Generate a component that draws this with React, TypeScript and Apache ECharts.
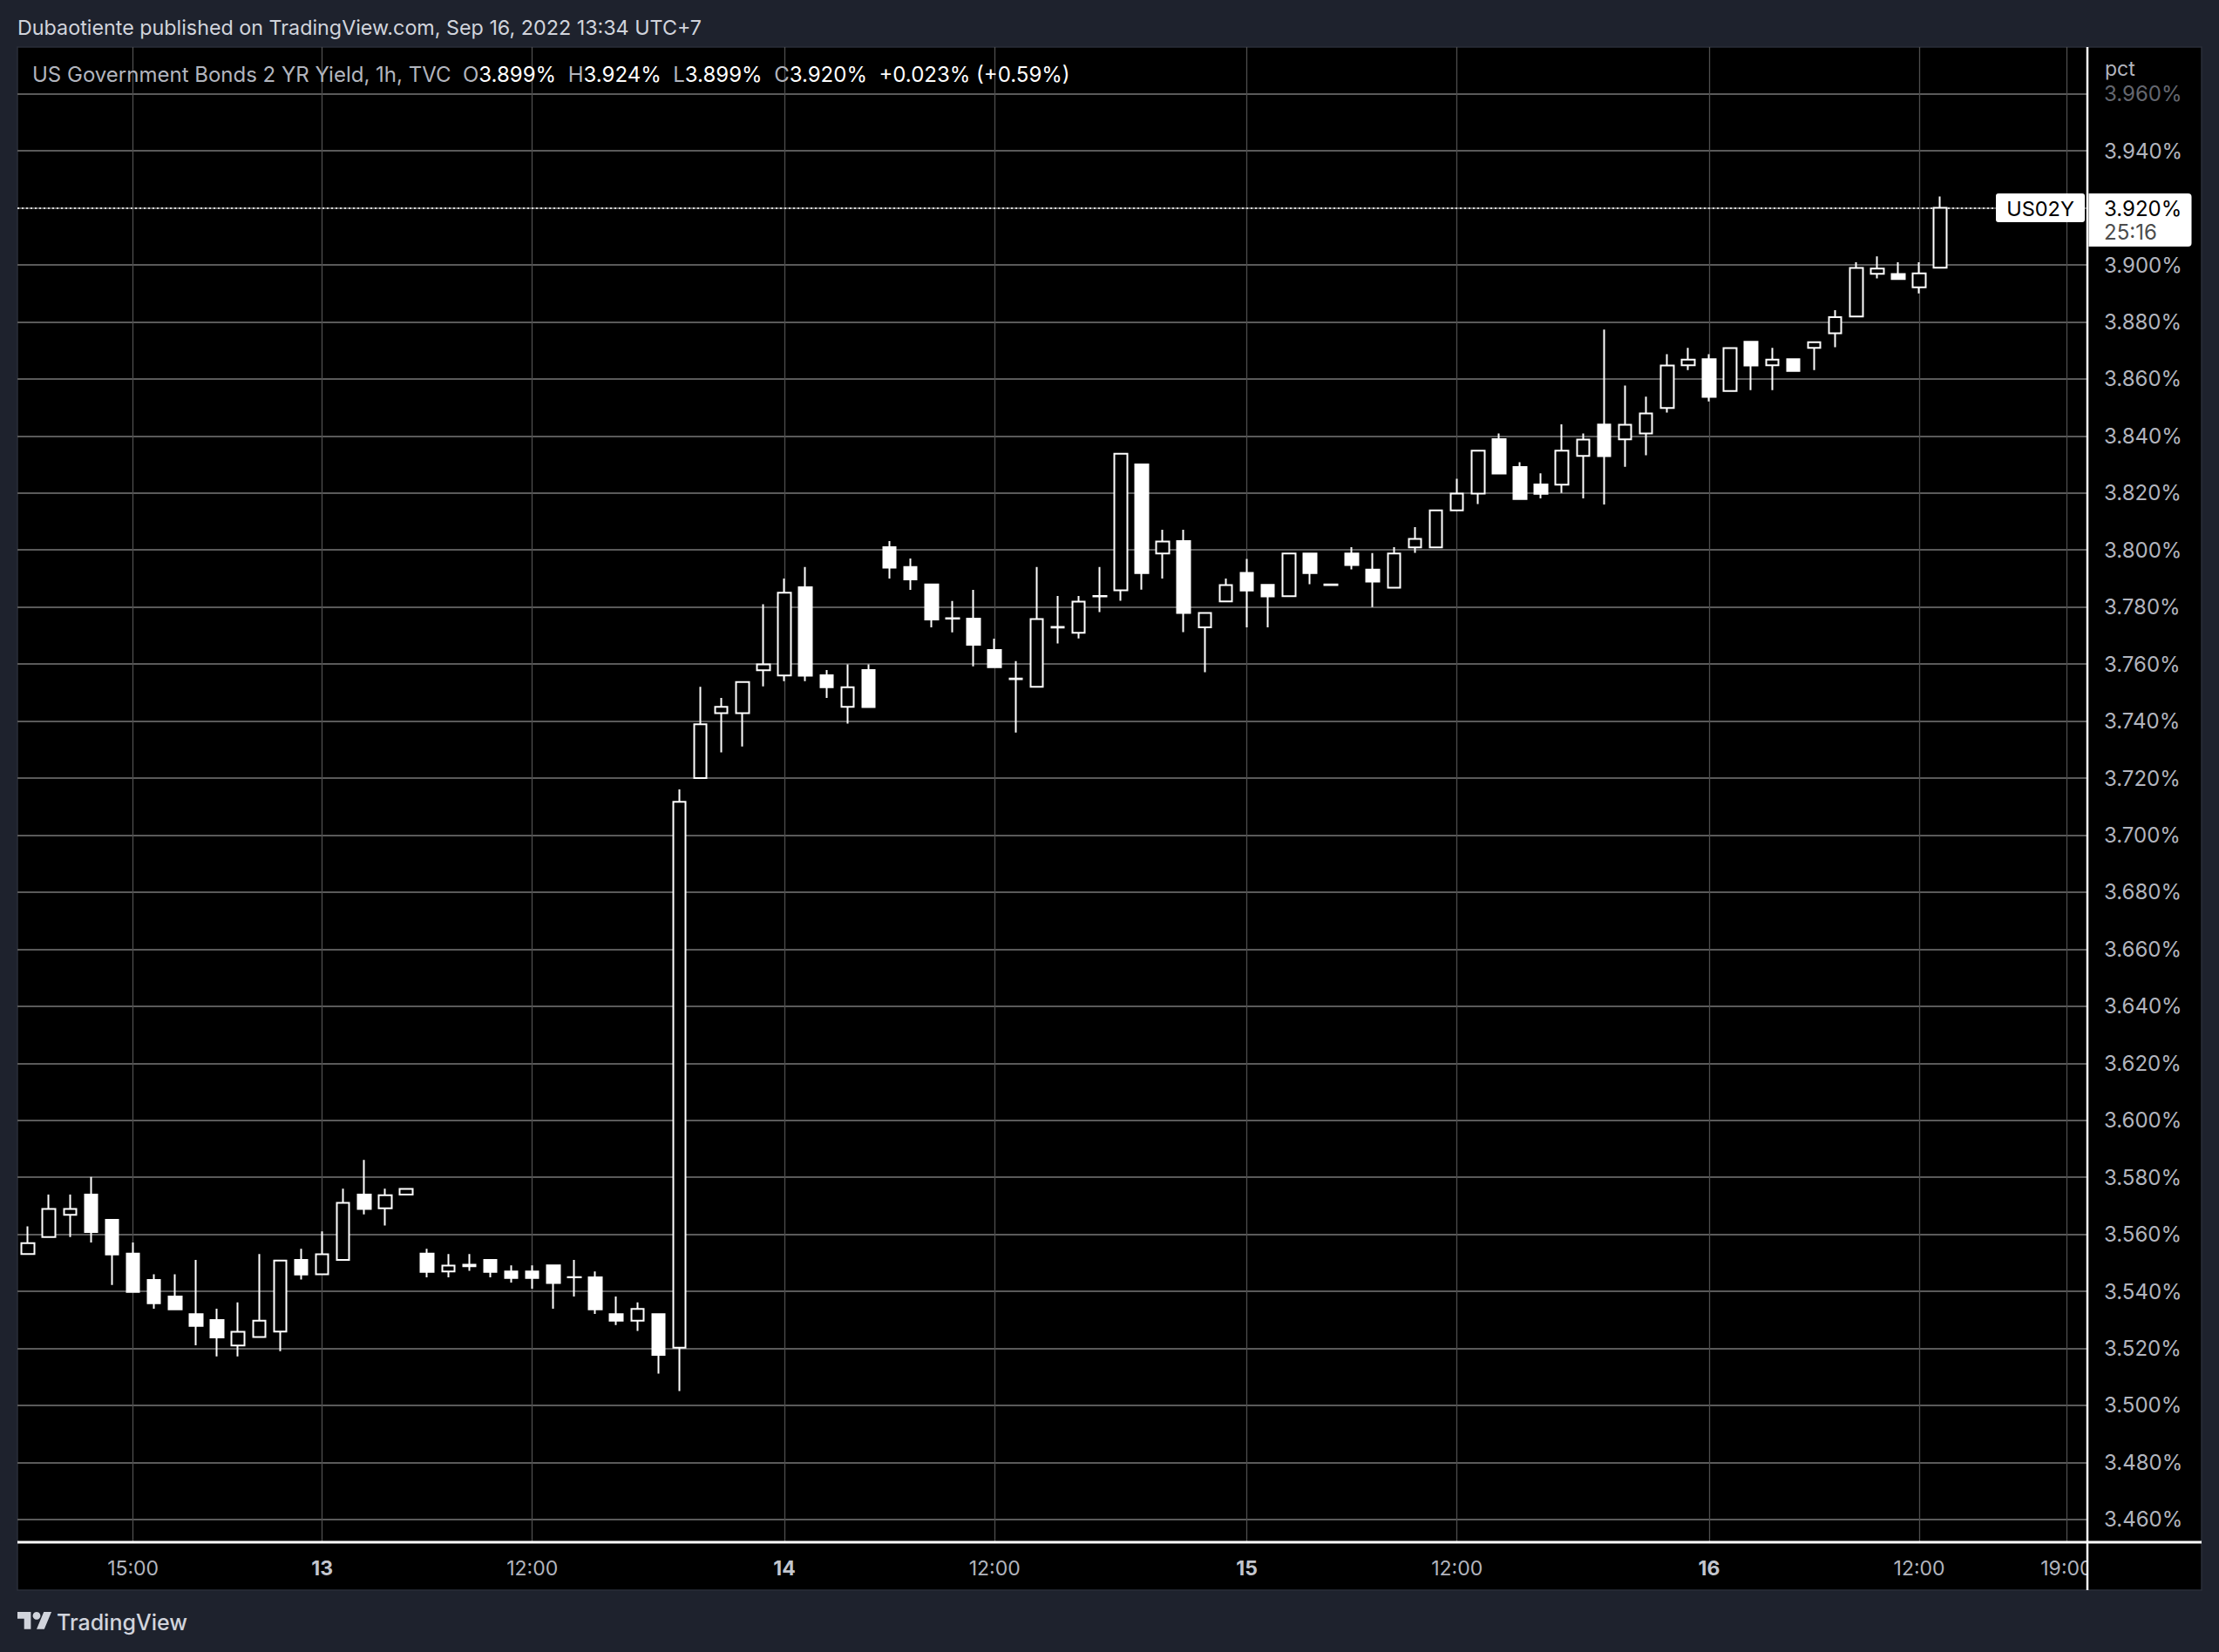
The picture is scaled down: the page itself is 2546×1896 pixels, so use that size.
import React, { useEffect, useRef } from "react";
import * as echarts from "echarts";

// ---------- data (1h bars, TVC:US02Y, Sep 12 10:00 -> Sep 16 13:00, UTC+7) ----------
const OPEN = [
  3.5531, 3.5590, 3.5668, 3.5739, 3.5651, 3.5532, 3.5440, 3.5382, 3.5320, 3.5299,
  3.5210, 3.5240, 3.5259, 3.5510, 3.5460, 3.5510, 3.5739, 3.5691, 3.5739, 3.5532,
  3.5470, 3.5493, 3.5510, 3.5470, 3.5470, 3.5491, 3.5450, 3.5449, 3.5320, 3.5297,
  3.5320, 3.5202, 3.7200, 3.7428, 3.7428, 3.7578, 3.7560, 3.7869, 3.7561, 3.7450,
  3.7579, 3.8010, 3.7940, 3.7879, 3.7761, 3.7759, 3.7649, 3.7549, 3.7520, 3.7730,
  3.7710, 3.7839, 3.7859, 3.8300, 3.7988, 3.8031, 3.7729, 3.7820, 3.7920, 3.7878,
  3.7838, 3.7988, 3.7879, 3.7988, 3.7931, 3.7868, 3.8009, 3.8009, 3.8139, 3.8198,
  3.8389, 3.8291, 3.8230, 3.8229, 3.8330, 3.8440, 3.8388, 3.8409, 3.8498, 3.8648,
  3.8669, 3.8558, 3.8730, 3.8648, 3.8669, 3.8709, 3.8760, 3.8819, 3.8969, 3.8968,
  3.8921, 3.8990,
];
const HIGH = [
  3.5628, 3.5739, 3.5739, 3.5801, 3.5651, 3.5571, 3.5460, 3.5460, 3.5510, 3.5339,
  3.5361, 3.5531, 3.5508, 3.5549, 3.5610, 3.5760, 3.5861, 3.5760, 3.5759, 3.5549,
  3.5531, 3.5531, 3.5510, 3.5491, 3.5491, 3.5491, 3.5510, 3.5470, 3.5382, 3.5361,
  3.5320, 3.7160, 3.7520, 3.7481, 3.7537, 3.7810, 3.7900, 3.7940, 3.7579, 3.7599,
  3.7599, 3.8031, 3.7970, 3.7879, 3.7821, 3.7860, 3.7689, 3.7610, 3.7940, 3.7839,
  3.7839, 3.7940, 3.8338, 3.8300, 3.8071, 3.8071, 3.7779, 3.7900, 3.7969, 3.7878,
  3.7988, 3.7988, 3.7881, 3.8010, 3.7989, 3.8010, 3.8080, 3.8139, 3.8250, 3.8348,
  3.8409, 3.8308, 3.8269, 3.8441, 3.8409, 3.8773, 3.8577, 3.8538, 3.8687, 3.8709,
  3.8687, 3.8708, 3.8730, 3.8709, 3.8669, 3.8729, 3.8841, 3.9009, 3.9030, 3.9009,
  3.9009, 3.9240,
];
const LOW = [
  3.5531, 3.5590, 3.5590, 3.5571, 3.5422, 3.5398, 3.5339, 3.5337, 3.5211, 3.5172,
  3.5172, 3.5240, 3.5190, 3.5441, 3.5460, 3.5510, 3.5670, 3.5631, 3.5739, 3.5449,
  3.5449, 3.5472, 3.5449, 3.5431, 3.5409, 3.5339, 3.5382, 3.5321, 3.5282, 3.5261,
  3.5111, 3.5050, 3.7200, 3.7290, 3.7311, 3.7522, 3.7540, 3.7540, 3.7481, 3.7391,
  3.7449, 3.7900, 3.7860, 3.7729, 3.7711, 3.7592, 3.7589, 3.7360, 3.7520, 3.7672,
  3.7690, 3.7782, 3.7822, 3.7861, 3.7900, 3.7712, 3.7571, 3.7820, 3.7729, 3.7729,
  3.7838, 3.7880, 3.7876, 3.7932, 3.7800, 3.7868, 3.7990, 3.8009, 3.8139, 3.8161,
  3.8268, 3.8179, 3.8181, 3.8200, 3.8181, 3.8160, 3.8292, 3.8332, 3.8482, 3.8631,
  3.8521, 3.8558, 3.8561, 3.8561, 3.8628, 3.8631, 3.8711, 3.8819, 3.8953, 3.8950,
  3.8900, 3.8990,
];
const CLOSE = [
  3.5569, 3.5689, 3.5689, 3.5608, 3.5529, 3.5398, 3.5358, 3.5337, 3.5279, 3.5238,
  3.5258, 3.5297, 3.5508, 3.5459, 3.5530, 3.5710, 3.5689, 3.5737, 3.5759, 3.5468,
  3.5490, 3.5488, 3.5468, 3.5447, 3.5447, 3.5429, 3.5449, 3.5337, 3.5297, 3.5338,
  3.5177, 3.7117, 3.7389, 3.7450, 3.7537, 3.7599, 3.7850, 3.7559, 3.7519, 3.7519,
  3.7449, 3.7938, 3.7897, 3.7756, 3.7759, 3.7668, 3.7589, 3.7547, 3.7758, 3.7728,
  3.7819, 3.7837, 3.8338, 3.7919, 3.8030, 3.7779, 3.7779, 3.7877, 3.7858, 3.7837,
  3.7988, 3.7919, 3.7877, 3.7947, 3.7889, 3.7988, 3.8039, 3.8139, 3.8198, 3.8348,
  3.8268, 3.8179, 3.8197, 3.8348, 3.8387, 3.8329, 3.8439, 3.8479, 3.8647, 3.8668,
  3.8537, 3.8708, 3.8647, 3.8668, 3.8628, 3.8729, 3.8817, 3.8989, 3.8987, 3.8950,
  3.8970, 3.9200,
];

// time axis: bar index of each labelled tick
const TIME_TICK_INDEX = [5, 14, 24, 36, 46, 58, 68, 80, 90, 97];
const TIME_TICK_LABEL = ["15:00", "13", "12:00", "14", "12:00", "15", "12:00", "16", "12:00", "19:00"];
const DAY_TICKS = ["13", "14", "15", "16"];

// price axis
const Y_MIN = 3.452;
const Y_MAX = 3.9764;
const Y_STEP = 0.02;
const X_MIN = -0.5;
const X_MAX = 98;

const SYMBOL = "US02Y";
const TITLE = "US Government Bonds 2 YR Yield, 1h, TVC";
const PUBLISHED = "Dubaotiente published on TradingView.com, Sep 16, 2022 13:34 UTC+7";
const COUNTDOWN = "25:16";
const BRAND = "TradingView";
const UNIT = "pct";

const FONT = "Inter, 'Noto Sans', 'DejaVu Sans', sans-serif";
const LOGO_D = "M14 22H7V11H0V4h14v18zM28 22h-8l7.5-18h8L28 22z";

const W = 2546;
const H = 1896;
const GRID_L = 20;
const GRID_T = 54;
const PRICE_X = 2395;
const TIME_Y = 1770;
const PANEL_R = 2526;
const PANEL_B = 1825;

export default function App() {
  const ref = useRef<HTMLDivElement>(null);

  useEffect(() => {
    document.body.style.margin = "0";
    document.body.style.background = "#1e222d";
    const el = ref.current!;
    const chart = echarts.init(el, null, { renderer: "svg" });

    try {
      echarts.graphic.registerShape("tvlogo", echarts.graphic.extendPath(LOGO_D, {}));
    } catch (e) {
      /* ignore */
    }

    const candleData = OPEN.map((o, i) => [i, o, CLOSE[i], LOW[i], HIGH[i]]);
    const tickMap = new Map<number, string>();
    TIME_TICK_INDEX.forEach((idx, k) => tickMap.set(idx, TIME_TICK_LABEL[k]));
    const n = CLOSE.length;
    const lastO = OPEN[n - 1];
    const lastH = HIGH[n - 1];
    const lastL = LOW[n - 1];
    const lastC = CLOSE[n - 1];
    const prevC = CLOSE[n - 2];
    const chg = lastC - prevC;
    const chgPct = (chg / prevC) * 100;
    const sign = (v: number) => (v >= 0 ? "+" : "-");

    const option: any = {
      animation: false,
      backgroundColor: "#1e222d",
      textStyle: { fontFamily: FONT },
      grid: {
        left: GRID_L,
        top: GRID_T,
        width: PRICE_X - GRID_L,
        height: TIME_Y - GRID_T,
        containLabel: false,
      },
      xAxis: {
        type: "value",
        min: X_MIN,
        max: X_MAX,
        interval: 0.5,
        axisLine: { show: false },
        axisTick: { show: false },
        splitLine: { show: false },
        axisLabel: {
          color: "#b2b5be",
          fontSize: 23,
          fontFamily: FONT,
          margin: 18,
          formatter: (v: number) => {
            const i = Math.round(v);
            if (Math.abs(v - i) > 1e-6) return "";
            const s = tickMap.get(i);
            if (!s) return "";
            return DAY_TICKS.includes(s) ? `{b|${s}}` : s;
          },
          rich: {
            b: { color: "#c3c6ce", fontSize: 23, fontWeight: "bold", fontFamily: FONT },
          },
        },
      },
      yAxis: {
        type: "value",
        position: "right",
        min: Y_MIN,
        max: Y_MAX,
        splitNumber: 26,
        minInterval: Y_STEP,
        maxInterval: Y_STEP,
        scale: true,
        axisLine: { show: false },
        axisTick: { show: false },
        axisLabel: {
          color: "#b2b5be",
          fontSize: 24,
          fontFamily: FONT,
          margin: 19,
          align: "left",
          showMinLabel: false,
          showMaxLabel: false,
          formatter: (v: number) => {
            const k = Math.round(v / Y_STEP);
            if (Math.abs(v - k * Y_STEP) > 1e-7) return "";
            const s = v.toFixed(3) + "%";
            return v > 3.95 ? `{d|${s}}` : s;
          },
          rich: { d: { color: "#64676f", fontSize: 24, fontFamily: FONT } },
        },
        splitLine: {
          show: true,
          showMinLine: false,
          showMaxLine: false,
          lineStyle: { color: "#5a5a5a", width: 1.8 },
        },
      },
      series: [
        {
          type: "candlestick",
          data: candleData,
          barWidth: 15,
          emphasis: { disabled: true },
          itemStyle: {
            color: "#000000",
            color0: "#ffffff",
            borderColor: "#ffffff",
            borderColor0: "#ffffff",
            borderColorDoji: "#ffffff",
            borderWidth: 2,
          },
          markLine: {
            silent: true,
            z: 1,
            symbol: ["none", "none"],
            label: { show: false },
            emphasis: { disabled: true },
            data: [
              ...TIME_TICK_INDEX.map((idx) => ({
                xAxis: idx,
                lineStyle: { color: "#4e4e4e", width: 1.3, type: "solid" },
              })),
              {
                yAxis: lastC,
                lineStyle: { color: "#ffffff", width: 1.6, type: [2, 3] },
              },
            ],
          },
        },
      ],
    };

    chart.setOption(option);

    const py = chart.convertToPixel({ yAxisIndex: 0 }, lastC) as number;

    const graphic: any[] = [
      // panel background
      {
        type: "rect",
        z: -10,
        shape: { x: GRID_L, y: GRID_T, width: PANEL_R - GRID_L, height: PANEL_B - GRID_T },
        style: { fill: "#000000", stroke: "#2a2e39", lineWidth: 1.5 },
      },
      // clip of time axis corner (under price scale)
      {
        type: "rect",
        z: 50,
        shape: { x: PRICE_X + 1, y: TIME_Y + 2, width: PANEL_R - PRICE_X - 2, height: PANEL_B - TIME_Y - 3 },
        style: { fill: "#000000" },
      },
      // separators
      {
        type: "line",
        z: 60,
        shape: { x1: PRICE_X, y1: GRID_T, x2: PRICE_X, y2: PANEL_B },
        style: { stroke: "#ffffff", lineWidth: 2.5 },
      },
      {
        type: "line",
        z: 60,
        shape: { x1: GRID_L, y1: TIME_Y, x2: PANEL_R, y2: TIME_Y },
        style: { stroke: "#ffffff", lineWidth: 3 },
      },
      // header
      {
        type: "text",
        z: 100,
        x: 20,
        y: 31,
        style: {
          text: PUBLISHED,
          fill: "#d1d4dc",
          fontSize: 23.3,
          fontFamily: FONT,
          verticalAlign: "middle",
          align: "left",
        },
      },
      // legend
      {
        type: "text",
        z: 100,
        x: 37,
        y: 85,
        style: {
          text:
            `{t|${TITLE}}  {l|O}{v|${lastO.toFixed(3)}%}  {l|H}{v|${lastH.toFixed(3)}%}  ` +
            `{l|L}{v|${lastL.toFixed(3)}%}  {l|C}{v|${lastC.toFixed(3)}%}  ` +
            `{v|${sign(chg)}${Math.abs(chg).toFixed(3)}% (${sign(chg)}${Math.abs(chgPct).toFixed(2)}%)}`,
          fontSize: 24,
          fontFamily: FONT,
          fill: "#b2b5be",
          verticalAlign: "middle",
          align: "left",
          rich: {
            t: { fill: "#b2b5be", fontSize: 24, fontFamily: FONT },
            l: { fill: "#b2b5be", fontSize: 24, fontFamily: FONT },
            v: { fill: "#ffffff", fontSize: 24, fontFamily: FONT },
          },
        },
      },
      // unit label
      {
        type: "text",
        z: 100,
        x: 2415,
        y: 79,
        style: { text: UNIT, fill: "#b2b5be", fontSize: 23, fontFamily: FONT, verticalAlign: "middle" },
      },
      // symbol label on last price line
      {
        type: "rect",
        z: 70,
        shape: { x: 2290, y: py - 16.5, width: 102, height: 33, r: 3 },
        style: { fill: "#ffffff" },
      },
      {
        type: "text",
        z: 71,
        x: 2341,
        y: py + 0.5,
        style: {
          text: SYMBOL,
          fill: "#000000",
          fontSize: 23.5,
          fontFamily: FONT,
          align: "center",
          verticalAlign: "middle",
        },
      },
      // price label
      {
        type: "rect",
        z: 70,
        shape: { x: PRICE_X + 1.5, y: py - 16.5, width: 118, height: 61, r: [0, 4, 4, 0] },
        style: { fill: "#ffffff" },
      },
      {
        type: "text",
        z: 71,
        x: 2414,
        y: py + 0.5,
        style: {
          text: lastC.toFixed(3) + "%",
          fill: "#000000",
          fontSize: 24,
          fontFamily: FONT,
          verticalAlign: "middle",
        },
      },
      {
        type: "text",
        z: 71,
        x: 2414,
        y: py + 28,
        style: { text: COUNTDOWN, fill: "#4c4c4c", fontSize: 24, fontFamily: FONT, verticalAlign: "middle" },
      },
      // footer logo + brand
      {
        type: "tvlogo",
        z: 100,
        x: 20,
        y: 1845.6,
        scaleX: 1.1,
        scaleY: 1.1,
        style: { fill: "#d1d4dc" },
      },
      {
        type: "circle",
        z: 100,
        shape: { cx: 20 + 20 * 1.1, cy: 1845.6 + 8 * 1.1, r: 4 * 1.1 },
        style: { fill: "#d1d4dc" },
      },
      {
        type: "text",
        z: 100,
        x: 65,
        y: 1862,
        style: {
          text: BRAND,
          fill: "#d1d4dc",
          fontSize: 25,
          fontWeight: 500,
          fontFamily: FONT,
          verticalAlign: "middle",
        },
      },
    ];

    chart.setOption({ graphic });

    return () => chart.dispose();
  }, []);

  return <div ref={ref} style={{ width: W, height: H }} />;
}
